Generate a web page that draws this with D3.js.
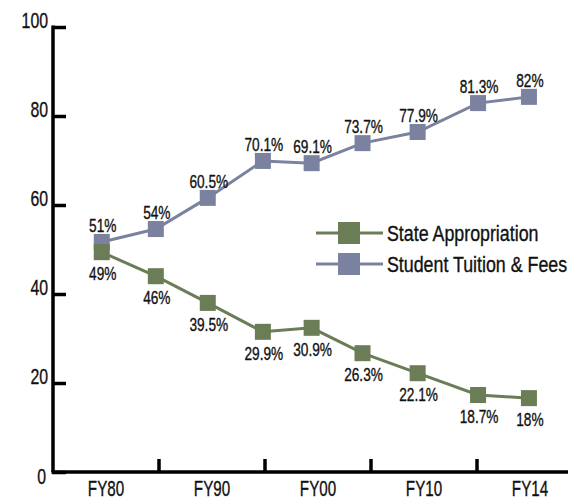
<!DOCTYPE html>
<html>
<head>
<meta charset="utf-8">
<script src="https://cdn.jsdelivr.net/npm/d3@7"></script>
<style>
  html, body { margin: 0; padding: 0; background: #fff; }
  svg { display: block; }
  text { font-family: "Liberation Sans", Arial, sans-serif; fill: #111; stroke: #111; stroke-width: 0.35px; }
</style>
</head>
<body>
<svg id="chart" width="568" height="500"></svg>
<script>
// ---- data ----
const categories = ["FY80", "FY90", "FY00", "FY10", "FY14"];
const yTicks = [0, 20, 40, 60, 80, 100];
// horizontal position of each point, in category units (0 = left edge of FY80 band)
const pointPos = [0.46, 0.97, 1.46, 1.98, 2.44, 2.92, 3.44, 4.01, 4.49];
const stateValues = [49.4, 44.0, 38.0, 31.5, 32.4, 26.7, 22.2, 17.3, 16.6];
const stateLabels = ["49%", "46%", "39.5%", "29.9%", "30.9%", "26.3%", "22.1%", "18.7%", "18%"];
const tuitionValues = [51.7, 54.6, 61.6, 69.9, 69.4, 73.9, 76.4, 82.9, 84.3];
const tuitionLabels = ["51%", "54%", "60.5%", "70.1%", "69.1%", "73.7%", "77.9%", "81.3%", "82%"];
const seriesNames = ["State Appropriation", "Student Tuition & Fees"];
const colors = ["#6b7d56", "#7a82a0"];

// ---- layout ----
const svg = d3.select("#chart");
const mLeft = 53, mRight = 583, mTop = 27, mBottom = 472;

const xBand = d3.scaleBand().domain(categories).range([mLeft, mRight]).padding(0);
const xPos = d3.scaleLinear().domain([0, categories.length]).range([mLeft, mRight]);
const y = d3.scaleLinear().domain([0, 100]).range([mBottom, mTop]);

// condensed text helper (no condensed fonts available)
function place(sel, fx, fy, sx) {
  sel.attr("transform", (d, i) => `translate(${fx(d, i)},${fy(d, i)}) scale(${sx},1)`);
}

// y axis
const yAxis = svg.append("g").attr("transform", `translate(${mLeft},0)`)
  .call(d3.axisRight(y).tickValues(yTicks).tickSize(13).tickFormat(""));
yAxis.select(".domain").attr("stroke", "#000").attr("stroke-width", 3.5)
  .attr("d", `M0,${mTop - 1.5}V${mBottom}`);
yAxis.selectAll(".tick line").attr("stroke", "#000").attr("stroke-width", 3.5).attr("x1", -1);
yAxis.selectAll(".tick").append("text")
  .attr("text-anchor", "end")
  .style("font-size", "22px")
  .text(d => d)
  .call(place, d => d === 0 ? -7 : -5, d => d === 0 ? 11 : 0, 0.72);

// x axis
const boundaries = categories.slice(1).map(c => xBand(c));
const xAxis = svg.append("g").attr("transform", `translate(0,${mBottom})`);
xAxis.append("line").attr("x1", mLeft - 1.5).attr("x2", mRight).attr("y1", 0).attr("y2", 0)
  .attr("stroke", "#000").attr("stroke-width", 3.5);
xAxis.selectAll(".xt").data(boundaries).join("line")
  .attr("x1", d => d).attr("x2", d => d).attr("y1", 0).attr("y2", -13)
  .attr("stroke", "#000").attr("stroke-width", 3.5);
xAxis.selectAll(".xl").data(categories).join("text")
  .attr("text-anchor", "middle")
  .style("font-size", "22px")
  .text(d => d)
  .call(place, d => xBand(d) + xBand.bandwidth() / 2, () => 23.5, 0.69);

// series
const line = d3.line().x(d => xPos(d[0])).y(d => y(d[1]));
const tuition = pointPos.map((p, i) => [p, tuitionValues[i], tuitionLabels[i]]);
const state = pointPos.map((p, i) => [p, stateValues[i], stateLabels[i]]);
const msize = 16;

function drawSeries(data, color, labelDy) {
  const g = svg.append("g");
  g.append("path").datum(data).attr("d", line)
    .attr("fill", "none").attr("stroke", color).attr("stroke-width", 3);
  g.selectAll("rect").data(data).join("rect")
    .attr("x", d => xPos(d[0]) - msize / 2).attr("y", d => y(d[1]) - msize / 2)
    .attr("width", msize).attr("height", msize).attr("fill", color);
  g.selectAll("text").data(data).join("text")
    .attr("text-anchor", "middle").style("font-size", "18px")
    .text(d => d[2])
    .call(place, d => xPos(d[0]) + 1, d => y(d[1]) + labelDy, 0.76);
}
drawSeries(tuition, colors[1], -10);
drawSeries(state, colors[0], 28);

// legend
const legend = svg.append("g").attr("transform", "translate(316,233)");
seriesNames.forEach((name, i) => {
  const g = legend.append("g").attr("transform", `translate(0,${i * 31})`);
  g.append("line").attr("x1", 0).attr("x2", 67).attr("y1", 0).attr("y2", 0)
    .attr("stroke", colors[i]).attr("stroke-width", 3);
  g.append("rect").attr("x", 33 - 11).attr("y", -11).attr("width", 22).attr("height", 22)
    .attr("fill", colors[i]);
  g.append("text").style("font-size", "22px").text(name)
    .attr("transform", "translate(71,7.5) scale(0.81,1)");
});
</script>
</body>
</html>
